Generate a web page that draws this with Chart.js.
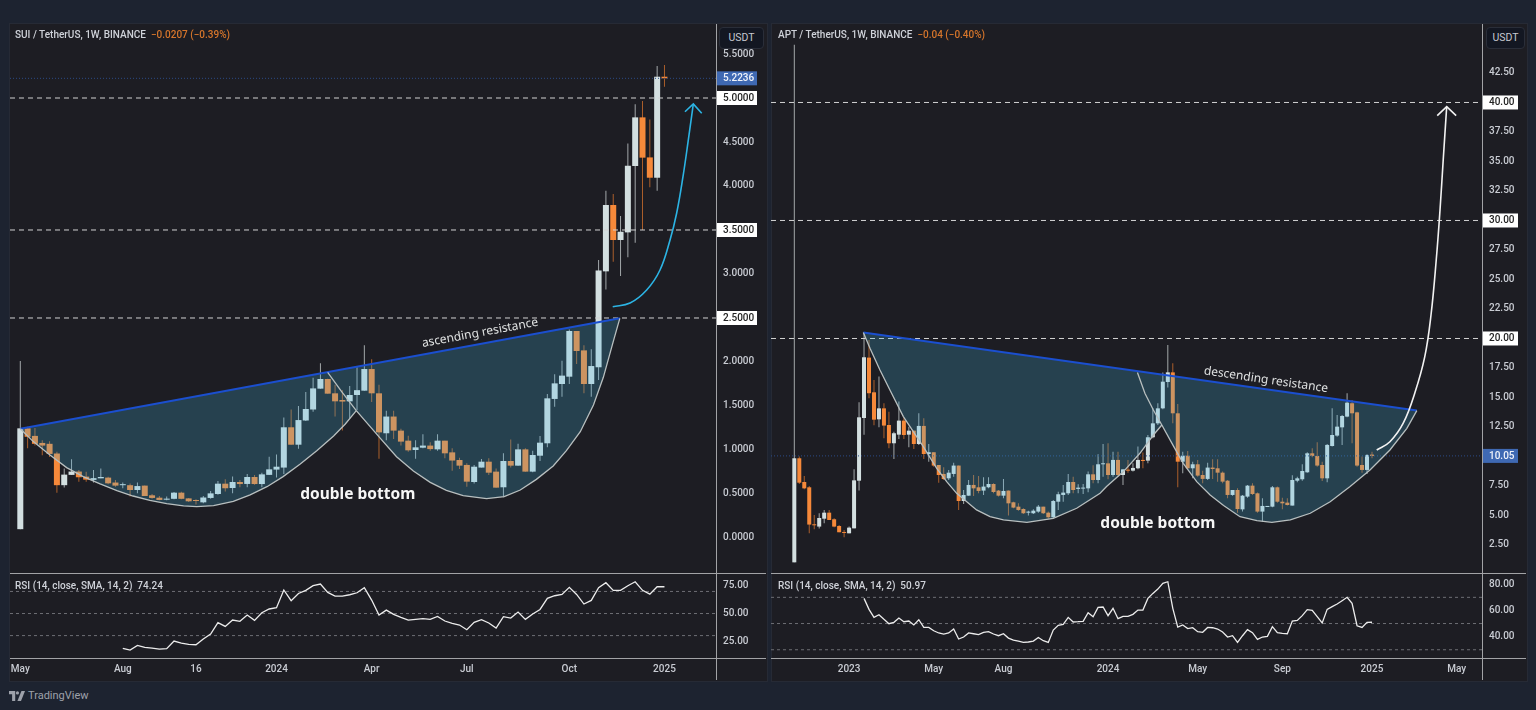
<!DOCTYPE html>
<html>
<head>
<meta charset="utf-8">
<title>SUI / APT double bottom</title>
<script src="https://cdn.jsdelivr.net/npm/chart.js@4"></script>
<style>
    html, body { margin: 0; height: 100%; background: #1d2330; overflow: hidden; }
    body { position: relative; width: 1536px; height: 710px; font-family: Roboto, sans-serif; }
    canvas { position: absolute; display: block; }
    .panel { position: absolute; top: 23px; height: 657px; background: #1d1d23; border: 1px solid #262a35; box-sizing: content-box; }
    .rule { position: absolute; background: #a2a3a6; z-index: 2; }
    .title { position: absolute; font-size: 10px; font-weight: 500; line-height: 12px; color: #cfd2d9; white-space: pre; z-index: 3; }
    .title span { color: #d5752b; }
    .unit { position: absolute; top: 27px; height: 20px; line-height: 20px; text-align: center; font-size: 10.5px; color: #c5c8d0;
        background: #131722; border: 1px solid #2a2e39; border-radius: 4px; box-sizing: content-box; z-index: 3; }
    .brand { position: absolute; left: 9px; top: 689px; color: #9da1aa; font-size: 11px; line-height: 13px; z-index: 3; }
    .brand svg { vertical-align: -2px; margin-right: 3px; }
</style>
</head>
<body>
<div class="panel" style="left:9px;width:757px"></div>
<div class="panel" style="left:771px;width:755px"></div>

<canvas id="suiPrice" width="756" height="549" style="left:10px;top:24px"></canvas>
<canvas id="suiRsi" width="756" height="106" style="left:10px;top:574px"></canvas>
<canvas id="aptPrice" width="755" height="549" style="left:771px;top:24px"></canvas>
<canvas id="aptRsi" width="755" height="106" style="left:771px;top:574px"></canvas>

<div class="rule" style="left:716px;top:24px;width:1px;height:656px"></div>
<div class="rule" style="left:1482px;top:24px;width:1px;height:656px"></div>
<div class="rule" style="left:10px;top:573px;width:756px;height:1px"></div>
<div class="rule" style="left:10px;top:658px;width:756px;height:1px"></div>
<div class="rule" style="left:771px;top:573px;width:755px;height:1px"></div>
<div class="rule" style="left:771px;top:658px;width:755px;height:1px"></div>

<div class="title" style="left:15px;top:29px">SUI / TetherUS, 1W, BINANCE  <span>−0.0207 (−0.39%)</span></div>
<div class="title" style="left:778px;top:29px">APT / TetherUS, 1W, BINANCE  <span>−0.04 (−0.40%)</span></div>
<div class="title" style="left:15px;top:580px">RSI (14, close, SMA, 14, 2)  74.24</div>
<div class="title" style="left:778px;top:580px">RSI (14, close, SMA, 14, 2)  50.97</div>
<div class="unit" style="left:719px;width:43px">USDT</div>
<div class="unit" style="left:1486px;width:37px">USDT</div>
<div class="brand"><svg width="16" height="10" viewBox="0 0 36 22"><path fill="#9da1aa" d="M0 0h14v22H7V7H0z"/><circle fill="#9da1aa" cx="19" cy="4" r="3.6"/><path fill="#9da1aa" d="M28 0h8l-9 22h-8z"/></svg>TradingView</div>

<script>
// SUI weekly candles
const suiOpen = [0.10, 1.246, 1.16, 1.08, 1.07, 0.96, 0.60, 0.717, 0.755, 0.697,
    0.66, 0.678, 0.686, 0.63, 0.60, 0.60, 0.545, 0.595, 0.485, 0.458,
    0.435, 0.445, 0.515, 0.45, 0.425, 0.405, 0.455, 0.50, 0.617, 0.568,
    0.636, 0.614, 0.693, 0.613, 0.717, 0.777, 0.80, 1.258, 1.06, 1.335,
    1.46, 1.697, 1.807, 1.644, 1.568, 1.553, 1.625, 1.674, 1.92, 1.644,
    1.19, 1.38, 1.22, 1.106, 1.0, 1.026, 1.05, 1.007, 1.106, 0.973,
    0.886, 0.83, 0.636, 0.80, 0.867, 0.754, 0.576, 0.875, 0.822, 1.007,
    0.754, 0.935, 1.076, 1.58, 1.75, 1.833, 2.352, 2.132, 1.75, 1.94,
    3.03, 3.784, 3.386, 3.473, 4.227, 4.78, 4.325, 4.094, 5.242];
const suiClose = [1.246, 1.15, 1.07, 1.05, 0.955, 0.60, 0.72, 0.755, 0.69, 0.663,
    0.68, 0.693, 0.621, 0.595, 0.61, 0.545, 0.59, 0.477, 0.455, 0.432,
    0.447, 0.515, 0.445, 0.417, 0.42, 0.46, 0.507, 0.617, 0.565, 0.636,
    0.613, 0.693, 0.613, 0.723, 0.78, 0.81, 1.258, 1.06, 1.34, 1.466,
    1.70, 1.807, 1.64, 1.553, 1.55, 1.625, 1.68, 1.92, 1.644, 1.2,
    1.38, 1.22, 1.095, 0.996, 1.03, 1.05, 1.01, 1.106, 0.962, 0.88,
    0.822, 0.64, 0.81, 0.867, 0.742, 0.572, 0.875, 0.822, 1.007, 0.754,
    0.943, 1.083, 1.587, 1.757, 1.845, 2.352, 2.125, 1.75, 1.954, 3.04,
    3.784, 3.386, 3.48, 4.23, 4.78, 4.322, 4.094, 5.242, 5.2236];
const suiHigh = [2.01, 1.265, 1.25, 1.11, 1.10, 0.98, 0.79, 0.894, 0.773, 0.754,
    0.773, 0.79, 0.697, 0.66, 0.63, 0.62, 0.63, 0.595, 0.50, 0.477,
    0.47, 0.523, 0.525, 0.455, 0.44, 0.477, 0.534, 0.648, 0.667, 0.70,
    0.66, 0.727, 0.716, 0.742, 0.924, 0.95, 1.37, 1.46, 1.50, 1.66,
    1.82, 1.985, 1.81, 1.74, 1.68, 1.727, 1.94, 2.19, 2.03, 1.74,
    1.447, 1.447, 1.24, 1.163, 1.11, 1.18, 1.087, 1.18, 1.106, 1.02,
    0.913, 0.848, 0.83, 0.898, 0.905, 0.79, 0.962, 1.12, 1.07, 1.02,
    0.992, 1.16, 1.636, 1.86, 2.015, 2.37, 2.352, 2.19, 2.144, 3.16,
    3.947, 3.909, 3.66, 4.484, 4.928, 4.966, 4.757, 5.363, 5.375];
const suiLow = [0.10, 1.02, 1.05, 0.94, 0.92, 0.515, 0.575, 0.717, 0.64, 0.64,
    0.63, 0.678, 0.61, 0.583, 0.565, 0.47, 0.508, 0.477, 0.447, 0.428,
    0.43, 0.44, 0.44, 0.41, 0.38, 0.395, 0.447, 0.49, 0.527, 0.508,
    0.576, 0.576, 0.606, 0.576, 0.717, 0.686, 0.727, 1.06, 1.015, 1.33,
    1.435, 1.697, 1.64, 1.38, 1.22, 1.36, 1.455, 1.674, 1.545, 0.90,
    1.11, 1.125, 1.05, 0.98, 0.90, 1.02, 0.99, 0.99, 0.905, 0.765,
    0.784, 0.583, 0.62, 0.80, 0.716, 0.572, 0.462, 0.80, 0.822, 0.754,
    0.746, 0.875, 1.03, 1.49, 1.606, 1.75, 1.977, 1.644, 1.606, 1.795,
    2.825, 3.14, 2.977, 3.19, 3.356, 3.5, 3.985, 3.947, 5.128];

// SUI RSI, starts at candle 14
const suiRsiValues = [18.4, 16.9, 21.1, 19.3, 18.7, 17.8, 18.1, 25.1, 23.2, 22.0, 21.7, 26.9, 31.4, 41.7, 38.3,
    44.1, 42.9, 48.6, 43.8, 50.7, 54.1, 55.3, 71.3, 61.6, 68.2, 71, 75.2, 76.7, 69.1, 65.8,
    65.8, 67, 68.8, 73.4, 62.2, 48.6, 53.1, 49.2, 46.5, 44.1, 44.7, 45.3, 44.7, 47.4, 43.2,
    41.1, 39.6, 35.3, 42, 44.4, 41.4, 36.8, 47.1, 45.9, 51.3, 44.7, 49.5, 53.7, 63.7, 66.1,
    67.3, 73.7, 67.3, 58.6, 61.9, 73.4, 77.9, 71, 71, 75.2, 78.8, 71, 67.6, 74.3, 74.24];

// SUI drawings, [candle, price]
const suiResistance = [[0, 1.242], [81.9, 2.496]];
const suiCupLeft = [[0, 1.242], [1.78, 1.095], [4.05, 0.943], [6.33, 0.80], [8.6, 0.697], [10.9, 0.614], [13.2, 0.538],
    [15.4, 0.477], [17.7, 0.428], [20, 0.39], [22.3, 0.364], [24.1, 0.356], [26.4, 0.367], [29.1, 0.417], [31.4, 0.489],
    [33.7, 0.583], [35.9, 0.697], [38.2, 0.837], [40.5, 0.992], [42.8, 1.159], [44.4, 1.295], [45.9, 1.447]];
const suiCupRightStart = [[41.99, 1.883], [43.9, 1.663]];
const suiCupRight = [[45.9, 1.447], [49.1, 1.14], [51.4, 0.924], [53.7, 0.761], [56, 0.632], [58.2, 0.541], [60.5, 0.481],
    [63.7, 0.447], [66.1, 0.47], [68.3, 0.545], [70.5, 0.666], [72.8, 0.818], [74.6, 0.992], [76.5, 1.208], [78.3, 1.511],
    [79.65, 1.826], [81, 2.231], [81.9, 2.496]];
const suiArrow = [[80.93, 2.628], [83.3, 2.67], [85.57, 2.818], [87.39, 3.045], [88.76, 3.386], [89.67, 3.693],
    [90.53, 4.106], [91.26, 4.523], [91.94, 4.932]];
const suiArrowHead = [[90.8, 4.844], [91.94, 4.932], [93.09, 4.826]];

const suiLevels = [5, 3.5, 2.5];
const suiLastPrice = 5.2236;
const suiPriceTicks = [0, 0.5, 1, 1.5, 2, 2.5, 3, 3.5, 4, 4.5, 5, 5.5];
const suiRsiTicks = [25, 50, 75];
const suiDateTicks = [0, 14, 24, 35, 48, 61, 75, 88];
const suiDateLabels = ['May', 'Aug', '16', '2024', 'Apr', 'Jul', 'Oct', '2025'];

// APT weekly candles
const aptOpen = [1.03, 9.85, 7.84, 7.39, 4.25, 4.06, 4.73, 5.24, 4.68, 4.11,
    3.6, 3.49, 3.91, 7.95, 13.26, 18.38, 15.44, 13.15, 14.08, 12.67,
    11.12, 11.85, 13.04, 11.85, 12.19, 11.06, 12.59, 10.21, 10.36, 9.28,
    8.52, 8.15, 8.52, 9.23, 6.23, 6.68, 7.59, 7.39, 7.11, 7.39,
    7.67, 7.11, 6.68, 7.11, 6.12, 5.75, 5.55, 5.24, 5.19, 5.33,
    5.75, 5.24, 4.85, 6.17, 6.74, 6.88, 7.84, 7.25, 7.28, 7.3,
    8.49, 8.01, 9.34, 9.42, 8.43, 9.71, 8.43, 8.88, 8.8, 9.0,
    9.71, 9.65, 11.63, 12.81, 14.08, 16.31, 17.13, 13.66, 9.56, 10.07,
    9.0, 9.34, 8.43, 8.1, 9.06, 9.0, 8.63, 7.95, 6.74, 7.16,
    5.52, 6.6, 7.53, 6.88, 5.33, 5.72, 5.75, 7.39, 6.17, 6.09,
    5.84, 7.95, 8.07, 8.66, 10.27, 10.05, 9.28, 8.15, 10.89, 11.77,
    12.47, 13.38, 14.51, 13.74, 9.28, 8.86, 10.16];
const aptClose = [9.85, 7.78, 7.3, 4.23, 4.17, 4.79, 5.24, 4.62, 4.06, 3.58,
    3.52, 3.97, 7.98, 13.32, 18.41, 15.36, 13.12, 14.08, 12.62, 11.12,
    11.97, 13.04, 11.82, 12.19, 11.06, 12.59, 10.21, 10.36, 9.23, 8.43,
    8.09, 8.63, 9.23, 6.23, 6.74, 7.59, 7.3, 7.08, 7.45, 7.67,
    6.99, 6.68, 7.08, 6.03, 5.67, 5.47, 5.19, 5.33, 5.41, 5.75,
    5.19, 4.85, 6.23, 6.8, 6.94, 7.84, 7.16, 7.36, 7.36, 8.49,
    8.01, 9.34, 9.42, 8.43, 9.71, 8.43, 8.91, 8.8, 9.03, 9.71,
    9.62, 11.63, 12.81, 14.08, 16.34, 17.13, 13.66, 9.56, 10.07, 9.0,
    9.34, 8.38, 8.1, 9.06, 8.94, 8.63, 7.87, 6.74, 7.16, 5.55,
    6.68, 7.53, 6.82, 5.33, 5.81, 5.81, 7.39, 6.17, 6.03, 5.89,
    8.01, 8.15, 8.77, 10.27, 10.05, 9.23, 8.15, 10.98, 11.82, 12.53,
    13.43, 14.56, 13.66, 9.23, 8.86, 10.13, 10.05];
const aptHigh = [44.9, 9.99, 8.35, 7.5, 5.04, 5.19, 5.47, 5.47, 4.76, 4.2,
    3.77, 4.06, 8.92, 14.59, 20.44, 19.87, 16.49, 16.77, 14.51, 13.8,
    12.1, 14.65, 13.24, 12.53, 12.19, 13.66, 13.24, 11.06, 10.36, 9.28,
    9.08, 8.86, 9.48, 9.23, 7.16, 8.01, 8.43, 8.35, 8.24, 8.24,
    7.73, 7.16, 8.1, 7.11, 6.17, 6.03, 5.61, 5.41, 5.52, 5.89,
    5.75, 5.33, 6.32, 7.02, 7.59, 8.52, 8.29, 7.64, 7.67, 8.72,
    9.25, 10.19, 11.06, 11.12, 10.41, 10.41, 8.91, 9.71, 9.42, 10.84,
    10.33, 11.82, 14.08, 14.51, 17.11, 19.45, 17.9, 14.45, 10.41, 10.47,
    9.56, 9.71, 8.8, 9.48, 9.76, 9.76, 8.72, 8.01, 7.16, 7.3,
    6.74, 7.59, 7.73, 6.94, 6.46, 5.81, 7.5, 7.45, 6.51, 6.46,
    8.41, 8.29, 9.34, 10.36, 10.69, 11.2, 9.56, 11.06, 14.08, 13.52,
    13.52, 15.36, 14.79, 13.8, 9.99, 10.19, 10.41];
const aptLow = [1.03, 7.67, 7.22, 3.49, 3.83, 3.9, 4.34, 4.62, 4.0, 3.58,
    3.15, 3.49, 3.91, 7.11, 11.85, 14.93, 12.64, 12.47, 11.54, 10.69,
    9.79, 11.48, 11.48, 10.78, 10.64, 10.98, 9.79, 9.56, 9.14, 7.78,
    8.01, 8.01, 8.29, 5.47, 5.98, 6.68, 6.66, 6.88, 6.74, 7.3,
    6.88, 6.6, 6.46, 4.99, 5.61, 5.41, 5.13, 4.99, 5.13, 5.24,
    5.13, 4.73, 4.73, 5.47, 6.17, 6.74, 6.88, 6.88, 6.82, 6.97,
    7.73, 7.73, 8.29, 8.07, 8.29, 8.29, 7.59, 8.63, 8.72, 8.91,
    9.0, 9.42, 11.54, 12.67, 14.0, 15.84, 12.81, 7.39, 8.58, 8.94,
    8.15, 8.29, 7.73, 8.01, 8.1, 7.87, 7.73, 6.46, 6.68, 5.24,
    5.33, 6.51, 6.74, 5.24, 4.48, 5.72, 5.69, 6.09, 5.52, 5.84,
    5.84, 7.81, 7.95, 8.63, 9.93, 9.14, 7.93, 7.81, 10.84, 11.68,
    10.98, 13.32, 11.12, 9.14, 8.63, 8.52, 9.85];

// APT RSI, starts at candle 14
const aptRsiValues = [69.2, 60.8, 54.7, 56.7, 53.2, 49.9, 50.9, 54.2, 51.4, 51.9,
    48.9, 52.9, 47, 47, 44.5, 42.8, 42, 42.8, 45.8, 38.2,
    39.7, 42.8, 42.2, 41.5, 43.3, 43.8, 42, 40.7, 42.2, 38.9,
    37.4, 36.6, 35.6, 35.9, 36.6, 39.4, 36.9, 35.6, 45, 48.6,
    49.4, 54.7, 51.2, 51.4, 51.7, 58.3, 55.2, 62.3, 62.6, 56,
    61.6, 53.7, 55.5, 55.5, 57, 60.3, 60.3, 69.2, 73, 76.3,
    80.7, 81.9, 61.6, 47.3, 48.9, 46.1, 46.8, 43.8, 43.3, 47,
    46.8, 45.8, 43.5, 39.7, 40.7, 35.6, 40.7, 45.3, 43, 37.9,
    39.7, 40.2, 47.6, 43, 42.5, 42.2, 51.9, 52.4, 56, 60.6,
    60, 55.2, 50.4, 60.8, 62.9, 64.9, 67.4, 70, 65.4, 48.3,
    47, 50.9, 50.97];

// APT drawings, [candle, price]
const aptResistance = [[13.86, 20.5], [125, 13.89]];
const aptCupLeft = [[13.86, 20.5], [15.2, 19.17], [17.2, 17.33], [19.2, 15.64], [21.9, 13.38], [23.9, 12.11], [25.9, 10.84],
    [28.6, 9.0], [30.6, 7.87], [32.6, 6.88], [36.6, 5.47], [39.3, 4.9], [42, 4.62], [46.7, 4.42], [52, 4.76], [56.7, 5.61],
    [61.4, 6.88], [62.7, 7.45], [66.1, 8.72], [69.4, 10.27], [72.1, 11.82], [73.8, 12.67]];
const aptCupRightStart = [[68.9, 17.11], [70.4, 15.36], [72.1, 13.94]];
const aptCupRight = [[73.8, 12.67], [76.2, 10.84], [78.1, 9.42], [80.8, 7.87], [83.5, 6.74], [86.2, 5.84], [89.5, 4.9],
    [92.9, 4.56], [95.9, 4.42], [99.6, 4.62], [103.6, 5.19], [107.6, 6.17], [111.6, 7.45], [115.6, 8.86], [119.6, 10.55],
    [123, 12.39], [125, 13.89]];
const aptArrow = [[116.95, 10.55], [119.6, 11.25], [122.3, 12.84], [124.6, 15.38], [126.6, 18.46], [127.85, 21.99],
    [128.9, 26.65], [129.66, 30.89], [130.3, 35.13], [131, 39.64]];
const aptArrowHead = [[129.1, 38.88], [131, 39.64], [132.9, 38.88]];

const aptLevels = [40, 30, 20];
const aptLastPrice = 10.05;
const aptPriceTicks = [2.5, 5, 7.5, 10, 12.5, 15, 17.5, 20, 22.5, 25, 27.5, 30, 32.5, 35, 37.5, 40, 42.5];
const aptRsiTicks = [40, 60, 80];
const aptDateTicks = [11, 28, 42, 63, 81, 98, 116, 133];
const aptDateLabels = ['2023', 'May', 'Aug', '2024', 'May', 'Sep', '2025', 'May'];

const rsiBands = [70, 50, 30];
const rsiFirstCandle = 14;
const FONT = 'Roboto, sans-serif';

function toPoints(pairs) {
    return pairs.map(p => ({ x: p[0], y: p[1] }));
}

function flatLine(value, range, color, dash, width) {
    return {
        type: 'line',
        data: [{ x: range[0], y: value }, { x: range[1], y: value }],
        borderColor: color,
        borderDash: dash,
        borderWidth: width,
        pointRadius: 0,
        order: 3
    };
}

function curve(pairs, color, width, order, tension) {
    return {
        type: 'line',
        data: toPoints(pairs),
        borderColor: color,
        borderWidth: width,
        pointRadius: 0,
        tension: tension || 0,
        order: order
    };
}

// Tags on the price axis, and the notes written on the chart
function overlayPlugin(s) {
    return {
        id: 'overlay',
        afterDraw(chart) {
            const { ctx, chartArea, scales } = chart;
            const tag = (value, back, ink) => {
                const y = scales.y.getPixelForValue(value);
                ctx.fillStyle = back;
                ctx.fillRect(chartArea.right, y - 7, s.tagWidth, 14);
                ctx.fillStyle = ink;
                ctx.font = '500 10px ' + FONT;
                ctx.textAlign = 'left';
                ctx.textBaseline = 'middle';
                ctx.fillText(value.toFixed(s.digits), chartArea.right + 7, y + 0.5);
            };
            s.levels.forEach(v => tag(v, '#ffffff', '#222222'));
            tag(s.last, '#3f69b3', '#f0f3fa');

            const note = (text, x, y, font, angle, ink) => {
                ctx.save();
                ctx.translate(scales.x.getPixelForValue(x), scales.y.getPixelForValue(y));
                ctx.rotate(angle * Math.PI / 180);
                ctx.font = font;
                ctx.fillStyle = ink;
                ctx.textAlign = 'center';
                ctx.textBaseline = 'middle';
                ctx.fillText(text, 0, 0);
                ctx.restore();
            };
            note(s.lineNote[0], s.lineNote[1], s.lineNote[2], '12px "Noto Sans", sans-serif', s.lineNote[3], '#dfe1e1');
            note('double bottom', s.cupNote[0], s.cupNote[1], 'bold 15.5px "Noto Sans", sans-serif', 0, '#f6f6f6');
        }
    };
}

function axisFit(width, height) {
    return scale => {
        if (width) scale.width = width;
        if (height) scale.height = height;
        scale.paddingTop = 0;
        scale.paddingBottom = 0;
        scale.paddingLeft = 0;
        scale.paddingRight = 0;
    };
}

function makePriceChart(id, s) {
    const wick = s.low.map((low, i) => ({ x: i, y: [low, s.high[i]] }));
    const body = s.open.map((open, i) => ({ x: i, y: [open, s.close[i]] }));
    const up = s.open.map((open, i) => s.close[i] >= open);
    const shade = [...s.resistance, ...s.cupRight.slice().reverse(), ...s.cupLeft.slice().reverse()];

    new Chart(document.getElementById(id), {
        type: 'bar',
        data: {
            datasets: [
                {
                    data: wick, grouped: false, barThickness: 1, inflateAmount: 0, order: 5,
                    backgroundColor: up.map(u => u ? '#a3a8aa' : '#ab5f2b')
                },
                {
                    data: body, grouped: false, barThickness: s.bodyWidth, minBarLength: 1, inflateAmount: 0, order: 4,
                    backgroundColor: up.map(u => u ? '#d3dfe0' : '#f6893a')
                },
                flatLine(s.last, s.xRange, '#2c4a85', [1, 2], 1),
                ...s.levels.map(v => flatLine(v, s.xRange, '#d2d2d2', [5, 4], 1)),
                {
                    type: 'line', data: toPoints(shade), fill: 'shape', borderWidth: 0, pointRadius: 0,
                    backgroundColor: 'rgba(67, 184, 230, 0.23)', order: 2
                },
                curve(s.cupLeft, '#b8bfbf', 1.3, 1),
                curve([...s.cupRightStart, ...s.cupRight], '#b8bfbf', 1.3, 1),
                curve(s.resistance, '#1b4fcf', 2, 1),
                curve(s.arrow, s.arrowColor, 1.6, 0, 0.4),
                curve(s.arrowHead, s.arrowColor, 1.6, 0)
            ]
        },
        options: {
            responsive: false,
            animation: false,
            events: [],
            layout: { padding: 0 },
            plugins: { legend: { display: false }, tooltip: { enabled: false } },
            scales: {
                x: {
                    type: 'linear', display: false, offset: false,
                    min: s.xRange[0], max: s.xRange[1],
                    grid: { display: false, offset: false }
                },
                y: {
                    type: 'linear', position: 'right',
                    min: s.yRange[0], max: s.yRange[1],
                    grid: { display: false, drawTicks: false },
                    border: { display: false },
                    afterFit: axisFit(s.axisWidth),
                    afterBuildTicks: scale => { scale.ticks = s.priceTicks.map(v => ({ value: v })); },
                    ticks: {
                        autoSkip: false, padding: 7, color: '#c9ccd3',
                        font: { family: FONT, size: 10, weight: '500' },
                        callback: v => v.toFixed(s.digits)
                    }
                }
            }
        },
        plugins: [overlayPlugin(s)]
    });
}

function makeRsiChart(id, s) {
    const line = s.rsi.map((v, i) => ({ x: i + rsiFirstCandle, y: v }));

    new Chart(document.getElementById(id), {
        type: 'line',
        data: {
            datasets: [
                ...rsiBands.map(v => flatLine(v, s.xRange, '#6d6e74', [3, 3], 1)),
                { data: line, borderColor: '#ececec', borderWidth: 1.3, pointRadius: 0, order: 1 }
            ]
        },
        options: {
            responsive: false,
            animation: false,
            events: [],
            layout: { padding: 0 },
            plugins: { legend: { display: false }, tooltip: { enabled: false } },
            scales: {
                x: {
                    type: 'linear', min: s.xRange[0], max: s.xRange[1],
                    grid: { display: false, drawTicks: false },
                    border: { display: false },
                    afterFit: axisFit(0, 22),
                    afterBuildTicks: scale => { scale.ticks = s.dateTicks.map(v => ({ value: v })); },
                    ticks: {
                        autoSkip: false, maxRotation: 0, padding: 5, color: '#c9ccd3',
                        font: { family: FONT, size: 10, weight: '500' },
                        callback: v => s.dateLabels[s.dateTicks.indexOf(v)]
                    }
                },
                y: {
                    type: 'linear', position: 'right',
                    min: s.rsiRange[0], max: s.rsiRange[1],
                    grid: { display: false, drawTicks: false },
                    border: { display: false },
                    afterFit: axisFit(s.axisWidth),
                    afterBuildTicks: scale => { scale.ticks = s.rsiTicks.map(v => ({ value: v })); },
                    ticks: {
                        autoSkip: false, padding: 7, color: '#c9ccd3',
                        font: { family: FONT, size: 10, weight: '500' },
                        callback: v => v.toFixed(2)
                    }
                }
            }
        }
    });
}

const suiSetup = {
    open: suiOpen, close: suiClose, high: suiHigh, low: suiLow, rsi: suiRsiValues,
    resistance: suiResistance, cupLeft: suiCupLeft, cupRight: suiCupRight, cupRightStart: suiCupRightStart,
    arrow: suiArrow, arrowHead: suiArrowHead, arrowColor: '#2cb4e4',
    levels: suiLevels, last: suiLastPrice, priceTicks: suiPriceTicks, rsiTicks: suiRsiTicks,
    dateTicks: suiDateTicks, dateLabels: suiDateLabels, digits: 4,
    xRange: [-1.407, 95.04], yRange: [-0.398, 5.841], rsiRange: [9.7, 85.8],
    axisWidth: 50, tagWidth: 41, bodyWidth: 6,
    lineNote: ['ascending resistance', 62.8, 2.33, -10.5], cupNote: [46.1, 0.489]
};

const aptSetup = {
    open: aptOpen, close: aptClose, high: aptHigh, low: aptLow, rsi: aptRsiValues,
    resistance: aptResistance, cupLeft: aptCupLeft, cupRight: aptCupRight, cupRightStart: aptCupRightStart,
    arrow: aptArrow, arrowHead: aptArrowHead, arrowColor: '#f2f2f2',
    levels: aptLevels, last: aptLastPrice, priceTicks: aptPriceTicks, rsiTicks: aptRsiTicks,
    dateTicks: aptDateTicks, dateLabels: aptDateLabels, digits: 2,
    xRange: [-4.68, 138.09], yRange: [0.127, 46.65], rsiRange: [23.7, 87.8],
    axisWidth: 44, tagWidth: 36, bodyWidth: 4,
    lineNote: ['descending resistance', 94.7, 16.5, 8.3], cupNote: [73, 4.28]
};

makePriceChart('suiPrice', suiSetup);
makeRsiChart('suiRsi', suiSetup);
makePriceChart('aptPrice', aptSetup);
makeRsiChart('aptRsi', aptSetup);
</script>
</body>
</html>
